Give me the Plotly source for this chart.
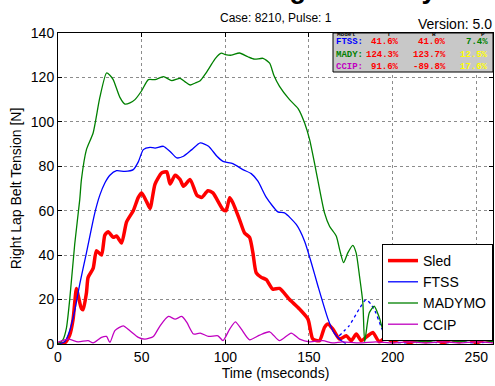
import plotly.graph_objects as go

# ---------------- data ----------------
sled_t = [0, 4, 7, 9, 11, 12, 14, 15, 17, 18, 21, 23, 26, 28, 30, 33, 35, 38, 41, 45, 48, 50, 53, 55, 58,
          62, 65, 67, 70, 73, 75, 79, 83, 86, 89.6, 92.6, 98.6, 100.5, 102.6, 104.5, 108.5, 111.5, 114.5,
          116.5, 118.5, 121.5, 124.5, 128.4, 132.4, 138.4, 144.4, 149.4, 152.3, 156.3, 159.3, 161.3, 164.3,
          168.3, 172.3, 175.3, 178.3, 181.2, 185.2, 188.2, 192, 196, 200, 205, 210, 215, 220, 225, 230,
          235, 240, 245, 250, 255, 260]
sled_v = [0, 0.5, 4, 11, 25, 22, 16, 15.5, 23, 30, 34, 42, 40, 49, 50.5, 48, 48.6, 45.5, 55, 60, 66, 68, 64,
          61, 72, 77, 77.5, 72, 76, 74, 71, 74, 67, 66, 69, 68, 60.5, 60, 65.8, 63.6, 56, 50, 48,
          41, 32, 30, 29, 24.7, 25, 20, 15.7, 11.2, 2.2, 1.5, 7.5, 9, 6.7,
          2.2, 3.7, 1.5, 4.5, 1.5, 3.7, 5.2, 1, 3, 1, 2.5, 0.5, 2, 1, 2.5, 0.5,
          2, 1, 2.5, 0.5, 2, 1]

ftss_t = [0, 4, 7, 10, 13, 17, 22, 25, 28, 31, 35, 40, 45, 48, 51, 55, 58, 63, 67, 71, 75, 80, 85, 90, 95,
          98.6, 104.5, 110.5, 115.5, 119.5, 124.5, 131.4, 135.4, 142.4, 147.4, 151.4, 155.4, 161.4, 165,
          169.3, 172]
ftss_v = [0, 1, 6, 15, 27, 41, 59, 67, 72.5, 76, 78, 77.7, 78.5, 82, 87.5, 88.5, 88.2, 89, 86.7, 83.8, 84.5,
          87.5, 90.5, 89, 84.5, 82.2, 81.2, 78.5, 76.7, 73.3, 66, 59.5, 59, 53.8, 46.3, 36.6, 26, 11.2, 5,
          1.5, 0.3]

ftss_tail_t = [168, 174, 180, 184, 187, 190, 193, 196, 200, 210, 220, 230, 240, 250, 260]
ftss_tail_v = [3.7, 8.2, 15.7, 19.9, 18, 14, 8, 3, 1, 0.5, 1, 0.5, 1, 0.5, 1]

mady_t = [0, 3, 5, 7, 10, 13, 14, 17, 21, 25, 29, 31, 33, 37, 40, 43, 46, 50, 54, 58, 63, 68, 73, 76, 79,
          82, 85, 88, 91, 94, 97.6, 100, 103.6, 108.5, 113.5, 117.5, 122.5, 126.5, 129, 132.4, 138.4,
          143.5, 147.4, 150.4, 153.3, 155.5, 159.3, 162.3, 166.3, 168.5, 170.7, 173.2, 176.2, 178.2,
          180.2, 182.2, 183.3, 186, 189, 192, 195, 198, 202, 206, 210, 220, 230, 240, 250, 260]
mady_v = [0, 2, 7, 20, 45, 65, 74, 87.5, 95, 111, 122, 121, 119, 111, 108, 108.5, 110, 114, 119, 119, 120.4,
          118.6, 119.6, 118, 116.6, 117.5, 118.5, 121.5, 125, 128.5, 130.9, 130.3, 130, 131, 129.3, 128.2,
          128.6, 126.4, 121, 116, 110, 106, 99.5, 92, 81.5, 73, 59, 53, 48.6, 42, 36.6, 41, 44.4, 41,
          30.6, 18.7, 1, 14, 17, 12, 5, 8, 3, 5, 2, 1, 2, 1, 2, 1]

ccip_t = [0, 6, 12, 18, 21, 26, 29, 31, 34, 39, 43, 48, 52, 57, 61, 66, 70, 74, 77, 81, 85, 90, 95.6, 98.6,
          102.6, 106, 109.6, 114.5, 120.5, 126.5, 132.4, 139.4, 144.4, 150.4, 158.3, 164, 170, 180, 190,
          200, 210, 220, 230, 240, 250, 260]
ccip_v = [0.8, 2.2, 1, 1.5, 0.5, 3, 3.4, 0.7, 6, 8.2, 6, 3, 2.2, 3.4, 8.2, 12.4, 11.2, 12.4, 9.7, 4.5, 4.9,
          3.4, 3.7, 1.5, 6.7, 10, 6.7, 1.9, 4, 5.5, 1.5, 4.9, 2.2, 1, 1.5, 0.5, 1, 0.5, 1, 0.5, 1, 0.5, 1,
          0.5, 1, 0.5]

x_ticks = [0, 50, 100, 150, 200, 250]
y_ticks = [0, 20, 40, 60, 80, 100, 120, 140]

table_header = ["Model", "T", "R", "P"]
table_models = ["FTSS:", "MADY:", "CCIP:"]
table_model_colors = ["#0000ff", "#008000", "#c000c0"]
table_T = ["41.6%", "124.3%", "91.6%"]
table_R = ["41.0%", "123.7%", "-89.8%"]
table_P = ["7.4%", "12.5%", "17.6%"]
table_P_colors = ["#008000", "#ffff00", "#ffff00"]

title_text = "Right Belt Tension Loading Summary"
subtitle_text = "Case: 8210, Pulse: 1"
version_text = "Version: 5.0"

# ---------------- figure ----------------
FONT = "Liberation Sans, Arial, Helvetica, sans-serif"
MONO = "Liberation Mono, Courier New, monospace"

fig = go.Figure()
fig.add_trace(go.Scatter(x=ftss_tail_t, y=ftss_tail_v, mode="lines", showlegend=False,
                         line=dict(color="#0000ff", width=1.3, dash="dot", shape="spline", smoothing=0.6)))
fig.add_trace(go.Scatter(x=sled_t, y=sled_v, mode="lines", name="Sled",
                         line=dict(color="#ff0000", width=3.5, shape="spline", smoothing=0.6)))
fig.add_trace(go.Scatter(x=ftss_t, y=ftss_v, mode="lines", name="FTSS",
                         line=dict(color="#0000ff", width=1.3, shape="spline", smoothing=0.6)))
fig.add_trace(go.Scatter(x=mady_t, y=mady_v, mode="lines", name="MADYMO",
                         line=dict(color="#008000", width=1.3, shape="spline", smoothing=0.6)))
fig.add_trace(go.Scatter(x=ccip_t, y=ccip_v, mode="lines", name="CCIP",
                         line=dict(color="#c000c0", width=1.3, shape="spline", smoothing=0.6)))

W, H = 495, 386
PL, PR, PT, PB = 58, 493, 33, 344          # plot area in page pixels
L, T = PL, PT
R, B = W - PR, H - PB
pw, ph = W - L - R, H - T - B


def px_x(p):
    return (p - L) / pw


def px_y(p):
    return 1 - (p - T) / ph


axis_common = dict(showline=True, linecolor="black", linewidth=1, mirror="ticks",
                   ticks="inside", ticklen=4, tickcolor="black",
                   showgrid=True, gridcolor="#8c8c8c", griddash="dot", gridwidth=1,
                   zeroline=False, tickfont=dict(family=FONT, size=14, color="black"))

fig.update_layout(
    width=W, height=H,
    margin=dict(l=L, r=R, t=T, b=B, autoexpand=False),
    paper_bgcolor="white", plot_bgcolor="white",
    font=dict(family=FONT, size=14, color="black"),
    xaxis=dict(range=[0, 260], tickvals=x_ticks, automargin=False,
               title=dict(text="Time (mseconds)", font=dict(size=14), standoff=2), **axis_common),
    yaxis=dict(range=[0, 140], tickvals=y_ticks, automargin=False,
               title=dict(text="Right Lap Belt Tension [N]", font=dict(size=14), standoff=5), **axis_common),
    legend=dict(x=1, xanchor="right", y=px_y(341), yanchor="bottom",
                bgcolor="white", bordercolor="black", borderwidth=1,
                font=dict(family=FONT, size=14, color="black"),
                tracegroupgap=0, itemwidth=30),
    showlegend=True,
)

annotations = []
# clipped big title at the very top
annotations.append(dict(text="<b>" + title_text + "</b>", xref="paper", yref="paper",
                        x=px_x(-45), xanchor="left", y=px_y(6), yanchor="bottom",
                        showarrow=False, font=dict(family=FONT, size=27, color="black")))
annotations.append(dict(text=subtitle_text, xref="paper", yref="paper", x=0.5, xanchor="center",
                        y=px_y(18), yanchor="middle", showarrow=False,
                        font=dict(family=FONT, size=12, color="black")))
annotations.append(dict(text=version_text, xref="paper", yref="paper", x=px_x(494), xanchor="right",
                        y=px_y(24), yanchor="middle", showarrow=False,
                        font=dict(family=FONT, size=14, color="black")))

# table box
fig.add_shape(type="rect", xref="paper", yref="paper", x0=px_x(333), x1=px_x(493),
              y0=px_y(72), y1=1, fillcolor="#c8c8c8", line=dict(color="black", width=1), layer="above")

hdr_x = [(335, "left"), (389, "center"), (434, "center"), (483, "center")]
for txt, (xp, anc) in zip(table_header, hdr_x):
    annotations.append(dict(text="<b>" + txt + "</b>", xref="paper", yref="paper", x=px_x(xp), xanchor=anc,
                            y=px_y(34.5), yanchor="middle", showarrow=False,
                            font=dict(family=MONO, size=6, color="black")))
row_y = [42, 55, 67]
for i in range(3):
    yy = px_y(row_y[i])
    annotations.append(dict(text="<b>" + table_models[i] + "</b>", xref="paper", yref="paper", x=px_x(334),
                            xanchor="left", y=yy, yanchor="middle", showarrow=False,
                            font=dict(family=MONO, size=9, color=table_model_colors[i])))
    annotations.append(dict(text="<b>" + table_T[i] + "</b>", xref="paper", yref="paper", x=px_x(401),
                            xanchor="right", y=yy, yanchor="middle", showarrow=False,
                            font=dict(family=MONO, size=9, color="#ff0000")))
    annotations.append(dict(text="<b>" + table_R[i] + "</b>", xref="paper", yref="paper", x=px_x(448),
                            xanchor="right", y=yy, yanchor="middle", showarrow=False,
                            font=dict(family=MONO, size=9, color="#ff0000")))
    annotations.append(dict(text="<b>" + table_P[i] + "</b>", xref="paper", yref="paper", x=px_x(490),
                            xanchor="right", y=yy, yanchor="middle", showarrow=False,
                            font=dict(family=MONO, size=9, color=table_P_colors[i])))

fig.update_layout(annotations=annotations)
fig.write_html("out.html", config={"displayModeBar": False},
               post_script="document.body.style.margin='0';document.body.style.overflow='hidden';")
